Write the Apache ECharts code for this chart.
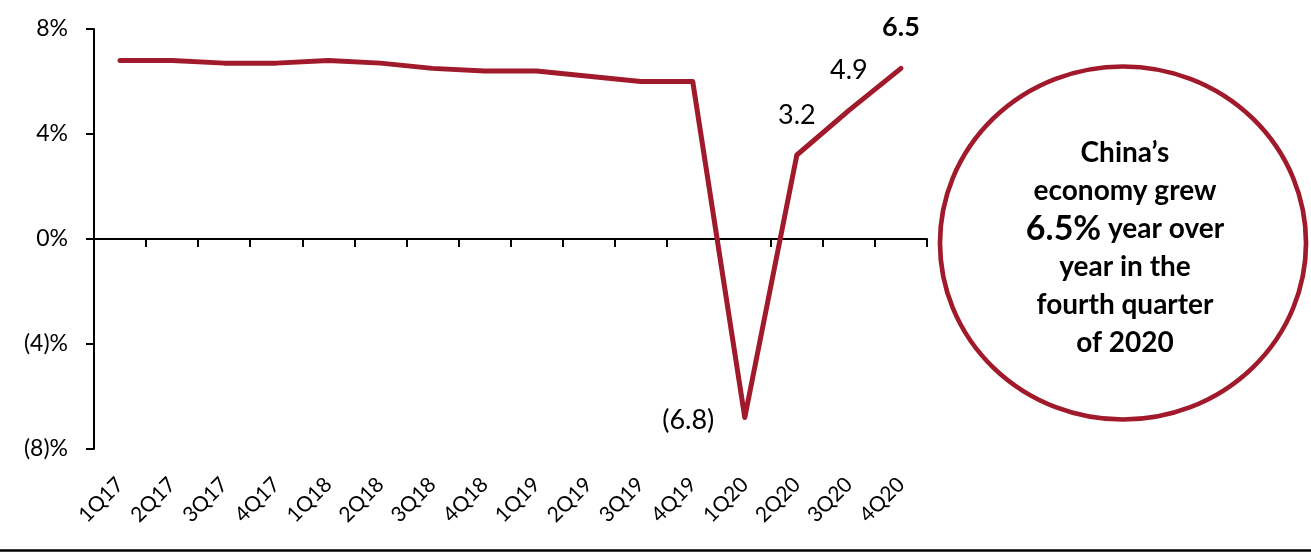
<!DOCTYPE html>
<html>
<head>
<meta charset="utf-8">
<script src="https://cdn.jsdelivr.net/npm/echarts@6/dist/echarts.min.js"></script>
<style>
html,body{margin:0;padding:0;background:#fff;}
#chart{width:1311px;height:552px;}
</style>
</head>
<body>
<div id="chart"></div>
<script>
// ---- data ----
const categories = ['1Q17','2Q17','3Q17','4Q17','1Q18','2Q18','3Q18','4Q18','1Q19','2Q19','3Q19','4Q19','1Q20','2Q20','3Q20','4Q20'];
const gdpGrowth = [6.8, 6.8, 6.7, 6.7, 6.8, 6.7, 6.5, 6.4, 6.4, 6.2, 6.0, 6.0, -6.8, 3.2, 4.9, 6.5];
const yTickValues = [-8, -4, 0, 4, 8];
const yTickLabels = ['(8)%', '(4)%', '0%', '4%', '8%'];
const labeledLeft = ['1Q20'];
const labeledTop = ['2Q20', '3Q20'];
const labeledBold = ['4Q20'];
const calloutLines = ['China\u2019s', 'economy grew', '6.5%', ' year over', 'year in the', 'fourth quarter', 'of 2020'];

const RED = '#A01A2C';
const FONT = 'Lato, "Open Sans", sans-serif';

function fmtVal(v){ return v < 0 ? '(' + (-v).toFixed(1) + ')' : v.toFixed(1); }

const seriesData = gdpGrowth.map((v, i) => {
  const c = categories[i];
  const base = {fontFamily: FONT, fontSize: 27, color: '#000', formatter: p => fmtVal(p.value)};
  if (labeledLeft.includes(c)) return {value: v, label: Object.assign({show: true, position: 'left', distance: 30, offset: [0, 3]}, base)};
  if (labeledTop.includes(c)) return {value: v, label: Object.assign({show: true, position: 'top', distance: 26}, base)};
  if (labeledBold.includes(c)) return {value: v, label: Object.assign({show: true, position: 'top', distance: 27, fontWeight: 'bold', fontSize: 28}, base)};
  return v;
});

const chart = echarts.init(document.getElementById('chart'), null, {renderer: 'canvas'});
chart.setOption({
  animation: false,
  backgroundColor: '#fff',
  grid: {left: 94, right: 384, top: 29, bottom: 103, containLabel: false},
  xAxis: [
    {
      type: 'category', data: categories, position: 'bottom', boundaryGap: true,
      axisLine: {show: true, onZero: true, lineStyle: {color: '#000', width: 2}},
      axisTick: {show: true, length: 8, alignWithLabel: false, lineStyle: {color: '#000', width: 2}},
      axisLabel: {show: false}, splitLine: {show: false}
    },
    {
      type: 'category', data: categories, position: 'bottom', boundaryGap: true,
      axisLine: {show: false, onZero: false}, axisTick: {show: false},
      axisLabel: {show: true, rotate: 45, margin: 32, fontFamily: FONT, fontSize: 21, color: '#000', interval: 0},
      splitLine: {show: false}
    }
  ],
  yAxis: {
    type: 'value', min: -8, max: 8, interval: 4,
    axisLine: {show: true, lineStyle: {color: '#000', width: 2}},
    axisTick: {show: true, length: 8, lineStyle: {color: '#000', width: 2}},
    splitLine: {show: false},
    axisLabel: {
      margin: 26, fontFamily: FONT, fontSize: 23, color: '#000',
      formatter: v => { const k = yTickValues.indexOf(v); return k >= 0 ? yTickLabels[k] : ''; }
    }
  },
  series: [{
    type: 'line', xAxisIndex: 0, data: seriesData,
    symbol: 'circle', symbolSize: 1, showSymbol: true,
    itemStyle: {color: RED},
    lineStyle: {color: RED, width: 5, cap: 'round', join: 'round'},
    z: 3
  }],
  graphic: [
    {
      type: 'circle', x: 1123, y: 243, scaleX: 1.037, scaleY: 1,
      shape: {cx: 0, cy: 0, r: 176.5},
      style: {fill: 'none', stroke: RED, lineWidth: 4.5}
    },
    {
      type: 'text', x: 1125, y: 248,
      style: {
        text: '{b|' + calloutLines[0] + '}\n{b|' + calloutLines[1] + '}\n{big|' + calloutLines[2] + '}{b|' + calloutLines[3] + '}\n{b|' + calloutLines[4] + '}\n{b|' + calloutLines[5] + '}\n{b|' + calloutLines[6] + '}',
        align: 'center', verticalAlign: 'middle',
        rich: {
          b: {fontFamily: FONT, fontWeight: 'bold', fontSize: 28, lineHeight: 38, fill: '#000', color: '#000'},
          big: {fontFamily: FONT, fontWeight: 'bold', fontSize: 34, lineHeight: 38, fill: '#000', color: '#000'}
        }
      }
    },
    {
      type: 'line', shape: {x1: 0, y1: 550.5, x2: 1311, y2: 550.5},
      style: {stroke: '#000', lineWidth: 2.5}
    }
  ]
});
</script>
</body>
</html>
